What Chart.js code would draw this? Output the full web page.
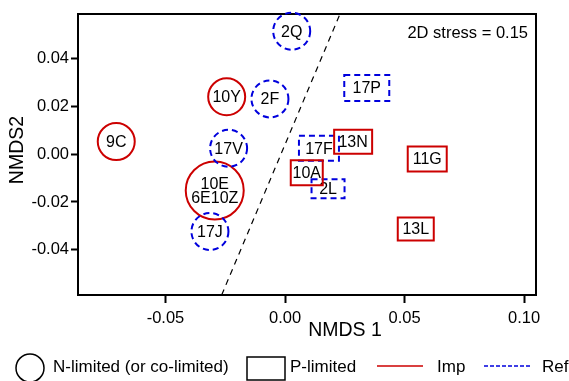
<!DOCTYPE html>
<html lang="en">
<head>
    <meta charset="UTF-8">
    <title>NMDS ordination</title>
    <script src="https://cdn.jsdelivr.net/npm/chart.js"></script>
</head>
<style>
    body {
        margin: 0;
        background: #ffffff;
    }
    canvas {
        display: block;
    }
</style>
<body>
    <canvas id="nmdsChart" width="569" height="381"></canvas>
    <script>
        // Site scores
        const sites = ['9C', '10Y', '10E\n6E10Z', '2Q', '2F', '17V', '17J', '17P', '17F', '13N', '11G', '10A', '2L', '13L'];
        const nmds1 = [-0.0706, -0.0244, -0.0294, 0.0028, -0.0063, -0.0236, -0.0314, 0.0342, 0.0142, 0.0285, 0.0595, 0.0091, 0.0180, 0.0547];
        const nmds2 = [0.0053, 0.0241, -0.0152, 0.0516, 0.0232, 0.0025, -0.0324, 0.0278, 0.0025, 0.0052, -0.0020, -0.0078, -0.0145, -0.0313];
        const treatment = ['Imp', 'Imp', 'Imp', 'Ref', 'Ref', 'Ref', 'Ref', 'Ref', 'Ref', 'Imp', 'Imp', 'Imp', 'Ref', 'Imp'];
        const limitation = ['N', 'N', 'N', 'N', 'N', 'N', 'N', 'P', 'P', 'P', 'P', 'P', 'P', 'P'];

        // Dividing line between N- and P-limited sites
        const dividerX = [-0.0265, 0.0230];
        const dividerY = [-0.059, 0.0588];

        const xTicks = [-0.05, 0.00, 0.05, 0.10];
        const yTicks = [-0.04, -0.02, 0.00, 0.02, 0.04];
        const stressText = '2D stress = 0.15';

        const FONT = '"Liberation Sans", Arial, Helvetica, sans-serif';
        const RED = '#cc0000';
        const BLUE = '#0000dd';

        // marker sizes (px)
        const circleR = { default: 18.5, '10E\n6E10Z': 29 };
        const boxSize = {
            '17P': [45, 26], '17F': [40, 25], '13N': [38, 24], '11G': [39, 25],
            '10A': [32, 25], '2L': [33, 19], '13L': [36, 23]
        };

        function groupData(lim, trt) {
            const out = [];
            for (let i = 0; i < sites.length; i++) {
                if (limitation[i] === lim && treatment[i] === trt) {
                    out.push({ x: nmds1[i], y: nmds2[i], label: sites[i] });
                }
            }
            return out;
        }

        function siteSet(lim, trt) {
            return {
                type: 'scatter',
                data: groupData(lim, trt),
                pointRadius: 0,
                pointHoverRadius: 0,
                shape: lim === 'N' ? 'circle' : 'box',
                color: trt === 'Imp' ? RED : BLUE,
                dashed: trt === 'Ref',
                clip: false
            };
        }

        // draws the site markers, frame, annotation, axis titles and legend
        const markerPlugin = {
            id: 'markers',
            afterDatasetsDraw(chart) {
                const ctx = chart.ctx;
                const area = chart.chartArea;
                ctx.save();

                // frame
                ctx.strokeStyle = '#000';
                ctx.lineWidth = 2;
                ctx.setLineDash([]);
                ctx.strokeRect(area.left, area.top, area.right - area.left, area.bottom - area.top);

                chart.data.datasets.forEach((ds, di) => {
                    if (!ds.shape) return;
                    const meta = chart.getDatasetMeta(di);
                    meta.data.forEach((el, j) => {
                        const label = ds.data[j].label;
                        ctx.strokeStyle = ds.color;
                        ctx.lineWidth = 2;
                        ctx.setLineDash(ds.dashed ? [6, 4] : []);
                        ctx.beginPath();
                        if (ds.shape === 'circle') {
                            const r = circleR[label] || circleR.default;
                            ctx.arc(el.x, el.y, r, 0, Math.PI * 2);
                        } else {
                            const [w, h] = boxSize[label];
                            ctx.rect(el.x - w / 2, el.y - h / 2, w, h);
                        }
                        ctx.stroke();

                        ctx.setLineDash([]);
                        ctx.fillStyle = '#000';
                        ctx.font = '16px ' + FONT;
                        ctx.textAlign = 'center';
                        ctx.textBaseline = 'middle';
                        const lines = label.split('\n');
                        const lh = 14.5;
                        lines.forEach((t, k) => {
                            ctx.fillText(t, el.x, el.y + (k - (lines.length - 1) / 2) * lh + 1);
                        });
                    });
                });

                // stress annotation
                ctx.fillStyle = '#000';
                ctx.font = '16.5px ' + FONT;
                ctx.textAlign = 'right';
                ctx.textBaseline = 'middle';
                ctx.fillText(stressText, 528, 33);

                // axis titles
                ctx.font = '19.5px ' + FONT;
                ctx.textAlign = 'center';
                ctx.fillText('NMDS 1', 345, 331);
                ctx.save();
                ctx.translate(18, 150);
                ctx.rotate(-Math.PI / 2);
                ctx.fillText('NMDS2', 0, 0);
                ctx.restore();

                // legend
                const ly = 367;
                ctx.strokeStyle = '#000';
                ctx.lineWidth = 1.5;
                ctx.beginPath();
                ctx.arc(30, 368, 14, 0, Math.PI * 2);
                ctx.stroke();
                ctx.strokeRect(247, 357, 38, 23);
                ctx.font = '17px ' + FONT;
                ctx.textAlign = 'left';
                ctx.fillText('N-limited (or co-limited)', 53, ly);
                ctx.fillText('P-limited', 290, ly);
                ctx.fillText('Imp', 437, ly);
                ctx.fillText('Ref', 542, ly);

                ctx.lineWidth = 1.5;
                ctx.strokeStyle = RED;
                ctx.beginPath();
                ctx.moveTo(377, 366);
                ctx.lineTo(423, 366);
                ctx.stroke();
                ctx.strokeStyle = BLUE;
                ctx.setLineDash([4, 2]);
                ctx.beginPath();
                ctx.moveTo(484, 366);
                ctx.lineTo(532, 366);
                ctx.stroke();

                ctx.restore();
            }
        };

        const tickFont = { family: FONT, size: 16.5 };

        const ctx = document.getElementById('nmdsChart').getContext('2d');
        const nmdsChart = new Chart(ctx, {
            data: {
                datasets: [
                    {
                        type: 'line',
                        data: dividerX.map((x, i) => ({ x: x, y: dividerY[i] })),
                        borderColor: '#000',
                        borderWidth: 1.2,
                        borderDash: [6, 5],
                        pointRadius: 0,
                        fill: false
                    },
                    siteSet('N', 'Imp'),
                    siteSet('N', 'Ref'),
                    siteSet('P', 'Ref'),
                    siteSet('P', 'Imp')
                ]
            },
            options: {
                responsive: false,
                animation: false,
                layout: { padding: { left: 0, right: 33, top: 14, bottom: 40 } },
                plugins: {
                    legend: { display: false },
                    tooltip: { enabled: false }
                },
                scales: {
                    x: {
                        type: 'linear',
                        min: -0.0866,
                        max: 0.1050,
                        afterFit(scale) { scale.height = 46; },
                        afterBuildTicks(scale) { scale.ticks = xTicks.map(v => ({ value: v })); },
                        ticks: {
                            font: tickFont,
                            color: '#000',
                            padding: 6,
                            maxRotation: 0,
                            callback: v => v.toFixed(2)
                        },
                        grid: { drawOnChartArea: false, tickLength: 8, tickWidth: 2, tickColor: '#000' },
                        border: { color: '#000', width: 2 }
                    },
                    y: {
                        type: 'linear',
                        min: -0.059,
                        max: 0.0588,
                        afterFit(scale) { scale.width = 78; },
                        afterBuildTicks(scale) { scale.ticks = yTicks.map(v => ({ value: v })); },
                        ticks: {
                            font: tickFont,
                            color: '#000',
                            padding: 2,
                            callback: v => v.toFixed(2)
                        },
                        grid: { drawOnChartArea: false, tickLength: 7, tickWidth: 2, tickColor: '#000' },
                        border: { color: '#000', width: 2 }
                    }
                }
            },
            plugins: [markerPlugin]
        });
    </script>
</body>
</html>
